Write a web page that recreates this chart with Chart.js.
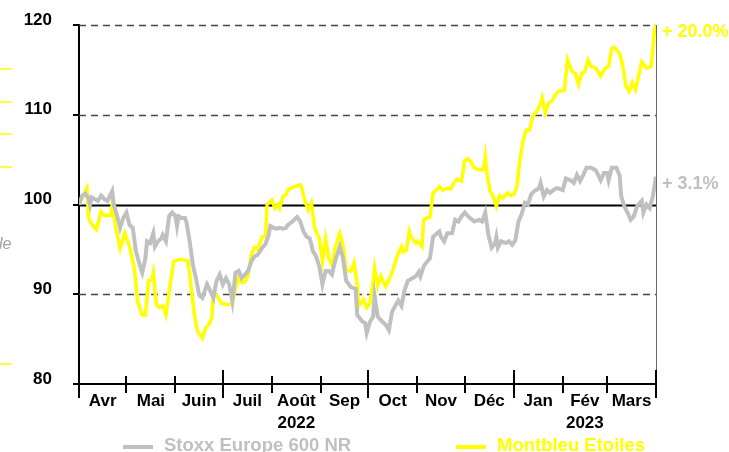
<!DOCTYPE html>
<html>
<head>
<meta charset="utf-8">
<script src="https://cdn.jsdelivr.net/npm/chart.js@4/dist/chart.umd.min.js"></script>
<style>
  html, body { margin: 0; padding: 0; background: #fff; }
  #wrap { position: relative; width: 729px; height: 452px; }
</style>
</head>
<body>
<div id="wrap"><canvas id="myChart" width="729" height="452"></canvas></div>
<script>
// month axis (days counted from 1 April 2022)
const monthNames = ['Avr', 'Mai', 'Juin', 'Juil', 'Août', 'Sep', 'Oct', 'Nov', 'Déc', 'Jan', 'Fév', 'Mars'];
const yearRow = ['', '', '', '', '2022', '', '', '', '', '', '2023', ''];
const monthStarts = [0, 30, 61, 91, 122, 153, 183, 214, 244, 275, 306, 334, 365];
const quarterStarts = [0, 91, 183, 275, 365];
const yTicks = [80, 90, 100, 110, 120];

const seriesNames = ['Stoxx Europe 600 NR', 'Montbleu Etoiles'];
const endLabels = ['+ 3.1%', '+ 20.0%'];

const montbleuDays = [0, 5, 6, 8, 11, 14, 16, 20, 21, 23, 26, 29, 32, 35, 37, 40, 42, 44, 46, 47, 49, 51, 53, 55, 58,
    60, 62, 65, 69, 70, 73, 75, 78, 80, 82, 84, 85, 87, 90, 94, 97, 99, 101, 103, 105, 107, 109, 111, 113, 116, 118,
    119, 121, 122, 124, 126, 127, 129, 131, 132, 135, 140, 141, 143, 145, 147, 149, 152, 154, 156, 158, 160, 162, 165,
    167, 169, 172, 174, 176, 177, 180, 182, 184, 186, 187, 189, 191, 194, 195, 198, 200, 202, 204, 205, 207, 209, 210,
    213, 214, 217, 218, 220, 222, 224, 226, 228, 230, 233, 235, 237, 239, 242, 244, 246, 248, 250, 252, 256, 257, 258,
    260, 262, 264, 266, 268, 271, 273, 275, 277, 279, 281, 283, 285, 287, 290, 292, 293, 295, 297, 299, 301, 303, 307,
    309, 312, 314, 316, 318, 320, 322, 324, 327, 330, 333, 335, 337, 339, 342, 344, 346, 348, 350, 352, 354, 356, 359,
    362, 364, 365];
const montbleuValues = [100, 101.8, 98.5, 97.8, 97.2, 99.2, 98.8, 98.8, 100, 97.7, 95.1, 96.8, 95.3, 92.9, 89.2, 87.7,
    87.7, 91.5, 91.6, 92.4, 88.8, 88.5, 88.7, 87.7, 91.5, 93.7, 93.8, 93.9, 93.7, 92.2, 87.7, 85.9, 85.1, 86.2, 86.6,
    87.3, 89.9, 89.9, 89, 88.8, 89, 90.7, 91.8, 91.3, 91.4, 92.1, 94.4, 95.2, 95, 96.4, 96.5, 100, 100.3, 100.5, 99.6,
    100, 99.6, 100.9, 101.1, 101.6, 101.9, 102.2, 101.8, 100.3, 99.4, 100.2, 97.4, 96.2, 93.7, 96.2, 94, 93.3, 95.2,
    96.8, 95.5, 92.6, 92.6, 93.5, 91.1, 88.7, 89.4, 88.5, 89, 91.3, 92.9, 90.9, 92, 90.9, 91.2, 92.4, 93.5, 94.6, 95.3,
    94.7, 94.9, 97, 96.4, 95.7, 95.9, 95.3, 98.3, 98.5, 98.6, 101.3, 101.6, 102, 101.6, 101.8, 101.7, 102.4, 102.8,
    102.6, 104.9, 105.1, 104.7, 104.1, 103.9, 103.9, 105.3, 103.5, 101.5, 100.9, 99.8, 101, 100.7, 101.3, 101, 101.1,
    102, 105, 107.2, 108.3, 108.3, 109.8, 110.5, 111.3, 111.9, 110.2, 111.3, 111.5, 112.1, 112.6, 112.7, 116.1, 114.8,
    114.6, 113.4, 114.6, 114.8, 116.1, 115.4, 115.2, 114.3, 115.2, 115.4, 117.4, 117.5, 116.8, 115.4, 113.2, 112.6,
    113.6, 112.8, 114.3, 115.9, 115.2, 115.4, 119.4, 120];

const stoxxDays = [0, 2, 4, 6, 7, 8, 10, 12, 14, 16, 18, 21, 22, 24, 26, 28, 30, 32, 34, 36, 39, 40, 42, 43, 45, 47, 48,
    50, 52, 53, 55, 57, 59, 61, 62, 63, 65, 67, 68, 70, 72, 74, 76, 78, 81, 83, 85, 87, 89, 91, 93, 95, 97, 99, 101,
    103, 105, 107, 109, 111, 113, 116, 118, 120, 121, 123, 125, 127, 129, 131, 132, 135, 138, 140, 142, 144, 146, 148,
    150, 152, 154, 156, 158, 160, 162, 165, 167, 169, 172, 175, 176, 179, 181, 182, 184, 186, 187, 189, 191, 194, 196,
    198, 200, 202, 204, 206, 208, 210, 213, 215, 216, 218, 220, 222, 224, 226, 228, 229, 231, 233, 236, 238, 240, 242,
    244, 246, 248, 250, 253, 255, 257, 259, 261, 263, 264, 265, 267, 270, 272, 274, 276, 278, 280, 282, 284, 286, 288,
    291, 292, 294, 296, 298, 300, 302, 303, 306, 308, 311, 313, 315, 317, 319, 321, 324, 327, 330, 332, 334, 335, 337,
    340, 342, 343, 345, 348, 349, 351, 353, 356, 357, 359, 361, 363, 365];
const stoxxValues = [100, 101, 101.2, 100.7, 100, 100.8, 100.6, 100.4, 101, 100.6, 100.4, 101.5, 100, 98.8, 97.4, 98.5,
    99.1, 97.7, 97.4, 94.8, 92.9, 92.4, 94, 95.9, 95.7, 96.8, 95.3, 95.9, 96.2, 96.6, 95.9, 98.7, 99.1, 98.7, 97.6,
    98.7, 98.5, 98.5, 98, 95.9, 93.3, 91.8, 89.9, 89.6, 91.1, 90.4, 89.6, 91.5, 92.2, 91.1, 91.8, 91.1, 89.2, 92.4,
    92.6, 91.8, 92.2, 92.6, 93.7, 94.2, 94.4, 95.2, 95.6, 96.6, 97.6, 97.4, 97.3, 97.4, 97.3, 97.4, 97.7, 98.1, 98.6,
    98.1, 97, 96.4, 96.2, 94.8, 94.2, 93.1, 91.1, 92.6, 92.6, 92.2, 93.7, 95.3, 94, 91.5, 90.8, 90.6, 87.7, 87, 86.8,
    85.7, 86.9, 87.5, 89.8, 87.5, 87.1, 86.6, 86, 88, 88.7, 89.3, 88.7, 90.5, 91.5, 91.7, 92, 92.5, 92, 93.1, 93.6, 94,
    96.4, 96.7, 97, 96.4, 95.9, 96.8, 96.8, 98.3, 98.1, 98.7, 99.1, 98.7, 98.4, 98.1, 98.3, 98.1, 99.1, 96.6, 95.2,
    95.6, 96.4, 95.2, 95.9, 95.7, 95.9, 95.5, 96, 98.1, 98.9, 100.2, 100, 101.1, 101.5, 101.8, 102.4, 100.9, 101.6,
    101.3, 101.6, 101.8, 101.8, 101.6, 102.9, 102.7, 102.4, 103.3, 102.6, 103.3, 104.1, 104.1, 103.8, 102.7, 103.5,
    103.5, 102.7, 104.1, 104.1, 103.2, 100.9, 99.8, 98.7, 98.3, 98.7, 99.8, 100.4, 99.1, 100, 99.6, 100.9, 103.1];

const grey = '#c0c0c0';
const yellow = '#ffff00';
const family = '"Liberation Sans", Arial, sans-serif';

function toPoints(days, values) {
    return days.map((d, i) => ({x: d, y: values[i]}));
}

// grid, crossing ticks, end labels and legend
const decor = {
    id: 'decor',
    beforeDatasetsDraw(chart) {
        const {ctx, chartArea: a, scales: {y}} = chart;
        ctx.save();
        yTicks.forEach(v => {
            if (v === y.min) return;
            const py = Math.round(y.getPixelForValue(v)) + 0.5;
            ctx.beginPath();
            if (v === 100) {
                ctx.setLineDash([]);
                ctx.strokeStyle = '#000';
                ctx.lineWidth = 2;
            } else {
                ctx.setLineDash([7, 5]);
                ctx.strokeStyle = '#444';
                ctx.lineWidth = 1.5;
            }
            ctx.moveTo(a.left, py);
            ctx.lineTo(a.right, py);
            ctx.stroke();
        });
        ctx.setLineDash([]);
        ctx.strokeStyle = '#666';
        ctx.lineWidth = 1;
        ctx.beginPath();
        ctx.moveTo(a.right + 0.5, a.top);
        ctx.lineTo(a.right + 0.5, a.bottom);
        ctx.stroke();
        ctx.restore();
    },
    afterDraw(chart) {
        const {ctx, chartArea: a, scales: {x, y}} = chart;
        ctx.save();
        // month ticks crossing the x axis
        ctx.strokeStyle = '#000';
        ctx.lineWidth = 2;
        monthStarts.forEach(d => {
            const px = Math.round(x.getPixelForValue(d));
            const big = quarterStarts.includes(d);
            ctx.beginPath();
            ctx.moveTo(px, a.bottom - (big ? 14 : 8));
            ctx.lineTo(px, a.bottom + (big ? 14 : 9));
            ctx.stroke();
        });
        // end labels
        ctx.font = 'bold 18px ' + family;
        ctx.textBaseline = 'middle';
        ctx.textAlign = 'left';
        const lastVals = [stoxxValues[stoxxValues.length - 1], montbleuValues[montbleuValues.length - 1]];
        [grey, yellow].forEach((c, i) => {
            ctx.fillStyle = c;
            ctx.fillText(endLabels[i], a.right + 6, y.getPixelForValue(lastVals[i]) + 7);
        });
        // legend
        const legendX = [123, 456];
        ctx.font = 'bold 18.5px ' + family;
        ctx.textBaseline = 'alphabetic';
        [grey, yellow].forEach((c, i) => {
            ctx.fillStyle = c;
            ctx.fillRect(legendX[i], 445, 30, 4);
            ctx.fillText(seriesNames[i], legendX[i] + 41, 451);
        });
        // cropped bits on the left edge
        ctx.strokeStyle = yellow;
        ctx.lineWidth = 1.5;
        [69, 102, 134, 167, 364].forEach(py => {
            ctx.beginPath();
            ctx.moveTo(0, py);
            ctx.lineTo(12, py);
            ctx.stroke();
        });
        ctx.fillStyle = '#a0a0a0';
        ctx.font = 'italic 16px ' + family;
        ctx.fillText('le', -1, 249);
        ctx.restore();
    }
};

const ctx = document.getElementById('myChart');
const chartGraphic = new Chart(ctx, {
    type: 'line',
    data: {
        datasets: [
            {
                label: seriesNames[0],
                data: toPoints(stoxxDays, stoxxValues),
                borderColor: grey,
                borderWidth: 4,
                pointRadius: 0,
                tension: 0,
            },
            {
                label: seriesNames[1],
                data: toPoints(montbleuDays, montbleuValues),
                borderColor: yellow,
                borderWidth: 3.5,
                pointRadius: 0,
                tension: 0,
            },
        ]
    },
    options: {
        responsive: false,
        animation: false,
        layout: {padding: {top: 25, right: 73, left: 0, bottom: 0}},
        plugins: {legend: {display: false}, tooltip: {enabled: false}},
        scales: {
            x: {
                type: 'linear',
                min: 0,
                max: 365,
                afterBuildTicks: scale => {
                    scale.ticks = monthNames.map((m, i) => ({value: (monthStarts[i] + monthStarts[i + 1]) / 2}));
                },
                afterFit: scale => { scale.height = 68; },
                grid: {display: false, drawTicks: false},
                border: {color: '#000', width: 2},
                ticks: {
                    autoSkip: false,
                    maxRotation: 0,
                    padding: 7,
                    color: '#000',
                    font: {family: family, size: 17, weight: 'bold', lineHeight: 1.25},
                    callback: (v, i) => yearRow[i] ? [monthNames[i], yearRow[i]] : monthNames[i]
                }
            },
            y: {
                min: 80,
                max: 120,
                afterBuildTicks: scale => {
                    scale.ticks = yTicks.map(v => ({value: v}));
                },
                afterFit: scale => {
                    scale.width = 79;
                    scale.paddingTop = 10;
                    scale.paddingBottom = 10;
                },
                grid: {drawOnChartArea: false, drawTicks: true, tickLength: 6, color: '#000', lineWidth: 2},
                border: {color: '#000', width: 2},
                ticks: {
                    padding: 21,
                    labelOffset: -5,
                    color: '#000',
                    font: {family: family, size: 17, weight: 'bold'}
                }
            }
        }
    },
    plugins: [decor]
});
</script>
</body>
</html>
